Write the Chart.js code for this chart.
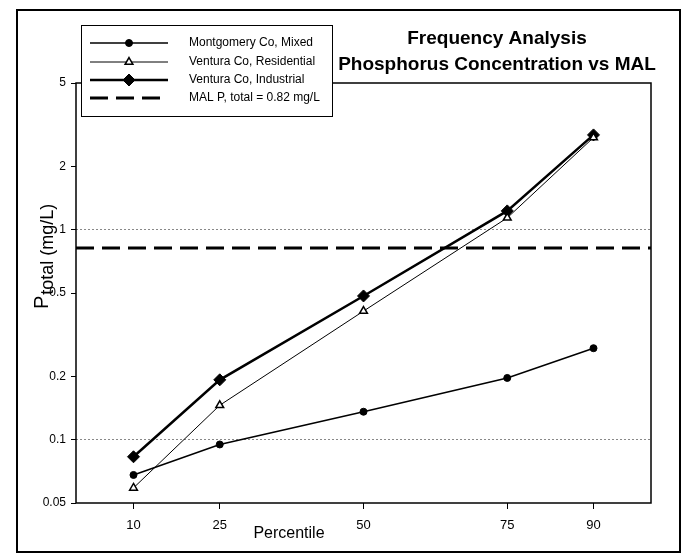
<!DOCTYPE html>
<html>
<head>
<meta charset="utf-8">
<script src="https://cdn.jsdelivr.net/npm/chart.js@4.4.1/dist/chart.umd.min.js"></script>
<style>
  body { margin: 0; background: #fff; }
</style>
</head>
<body>
<canvas id="grafico" width="688" height="557"></canvas>
<script>
// datos
const percentiles = [10, 25, 50, 75, 90];
const montgomeryMixed = [0.068, 0.095, 0.136, 0.197, 0.273];
const venturaResidential = [0.059, 0.146, 0.41, 1.14, 2.75];
const venturaIndustrial = [0.083, 0.193, 0.484, 1.23, 2.83];
const malValue = [0.82];
const xRange = [0, 100];
const yTicks = [0.05, 0.1, 0.2, 0.5, 1, 2, 5];
const yGrid = [0.1, 1];
const seriesNames = ['Montgomery Co, Mixed', 'Ventura Co, Residential', 'Ventura Co, Industrial', 'MAL P, total = 0.82 mg/L'];

const fuente = '"Liberation Sans", Arial, sans-serif';

function puntos(valores) {
    return percentiles.map((p, i) => ({ x: p, y: valores[i] }));
}

// marco, titulo, leyenda y titulos de ejes
const decoracion = {
    id: 'decoracion',
    afterDraw(chart) {
        const ctx = chart.ctx;
        const area = chart.chartArea;
        ctx.save();

        // marco exterior
        ctx.strokeStyle = '#000';
        ctx.lineWidth = 2;
        ctx.strokeRect(17, 10, 663, 542);

        // marco del grafico
        ctx.lineWidth = 1.5;
        ctx.strokeRect(area.left, area.top, area.right - area.left, area.bottom - area.top);

        // titulo
        ctx.fillStyle = '#000';
        ctx.textAlign = 'center';
        ctx.textBaseline = 'middle';
        ctx.font = 'bold 19px ' + fuente;
        ctx.fillText('Frequency Analysis', 497, 39);
        ctx.fillText('Phosphorus Concentration vs MAL', 497, 65);

        // leyenda
        ctx.fillStyle = '#fff';
        ctx.fillRect(81, 25, 251, 91);
        ctx.strokeStyle = '#000';
        ctx.lineWidth = 1;
        ctx.strokeRect(81.5, 25.5, 251, 91);
        const filas = [43, 62, 80, 98];
        chart.data.datasets.forEach((ds, i) => {
            const y = filas[i];
            ctx.strokeStyle = '#000';
            ctx.lineWidth = ds.borderWidth;
            ctx.setLineDash(ds.borderDash || []);
            ctx.beginPath();
            ctx.moveTo(90, y);
            ctx.lineTo(168, y);
            ctx.stroke();
            ctx.setLineDash([]);
            if (ds.pointRadius > 0) {
                ctx.fillStyle = ds.pointBackgroundColor;
                ctx.strokeStyle = '#000';
                ctx.lineWidth = ds.pointBorderWidth;
                Chart.helpers.drawPoint(ctx, {
                    pointStyle: ds.pointStyle,
                    radius: ds.pointRadius,
                    borderWidth: ds.pointBorderWidth,
                    rotation: 0
                }, 129, y);
            }
            ctx.fillStyle = '#000';
            ctx.textAlign = 'left';
            ctx.textBaseline = 'middle';
            ctx.font = '12px ' + fuente;
            ctx.fillText(ds.label, 189, y);
        });

        // titulo eje x
        ctx.textAlign = 'center';
        ctx.font = '16px ' + fuente;
        ctx.fillText('Percentile', 289, 534);

        // titulo eje y con subindice
        ctx.translate(48, 309);
        ctx.rotate(-Math.PI / 2);
        ctx.textAlign = 'left';
        ctx.textBaseline = 'alphabetic';
        ctx.font = '20px ' + fuente;
        ctx.fillText('P', 0, 0);
        const anchoP = ctx.measureText('P').width;
        ctx.font = '18px ' + fuente;
        ctx.fillText('total (mg/L)', anchoP + 1, 5);

        ctx.restore();
    }
};

new Chart(document.getElementById('grafico'), {
    type: 'line',
    data: {
        datasets: [{
            label: seriesNames[0],
            data: puntos(montgomeryMixed),
            borderColor: '#000',
            borderWidth: 1.5,
            pointStyle: 'circle',
            pointRadius: 3.5,
            pointBorderWidth: 1,
            pointBackgroundColor: '#000',
            pointBorderColor: '#000'
        }, {
            label: seriesNames[1],
            data: puntos(venturaResidential),
            borderColor: '#000',
            borderWidth: 1,
            pointStyle: 'triangle',
            pointRadius: 4.5,
            pointBorderWidth: 1.5,
            pointBackgroundColor: '#fff',
            pointBorderColor: '#000'
        }, {
            label: seriesNames[2],
            data: puntos(venturaIndustrial),
            borderColor: '#000',
            borderWidth: 2.5,
            pointStyle: 'rectRot',
            pointRadius: 6,
            pointBorderWidth: 1,
            pointBackgroundColor: '#000',
            pointBorderColor: '#000'
        }, {
            label: seriesNames[3],
            data: xRange.map(x => ({ x: x, y: malValue[0] })),
            borderColor: '#000',
            borderWidth: 3,
            borderDash: [18, 8],
            pointRadius: 0
        }]
    },
    options: {
        responsive: false,
        animation: false,
        layout: { padding: { left: 0, top: 83, right: 37, bottom: 0 } },
        plugins: {
            legend: { display: false },
            tooltip: { enabled: false }
        },
        scales: {
            x: {
                type: 'linear',
                min: xRange[0],
                max: xRange[1],
                afterBuildTicks: s => { s.ticks = percentiles.map(v => ({ value: v })); },
                afterFit: s => { s.height = 54; },
                ticks: {
                    color: '#000',
                    font: { family: fuente, size: 13 },
                    padding: 9,
                    maxRotation: 0,
                    autoSkip: false
                },
                grid: { drawOnChartArea: false, tickColor: '#000', tickLength: 6 },
                border: { display: false }
            },
            y: {
                type: 'logarithmic',
                min: yTicks[0],
                max: yTicks[yTicks.length - 1],
                afterBuildTicks: s => { s.ticks = yTicks.map(v => ({ value: v })); },
                afterFit: s => { s.width = 76; },
                ticks: {
                    color: '#000',
                    font: { family: fuente, size: 12 },
                    padding: 5,
                    callback: v => String(v)
                },
                grid: {
                    color: c => (c.tick && yGrid.includes(c.tick.value)) ? '#888' : 'rgba(0,0,0,0)',
                    lineWidth: 1,
                    tickColor: '#000',
                    tickLength: 5
                },
                border: { display: false, dash: [2, 2] }
            }
        }
    },
    plugins: [decoracion]
});
</script>
</body>
</html>
